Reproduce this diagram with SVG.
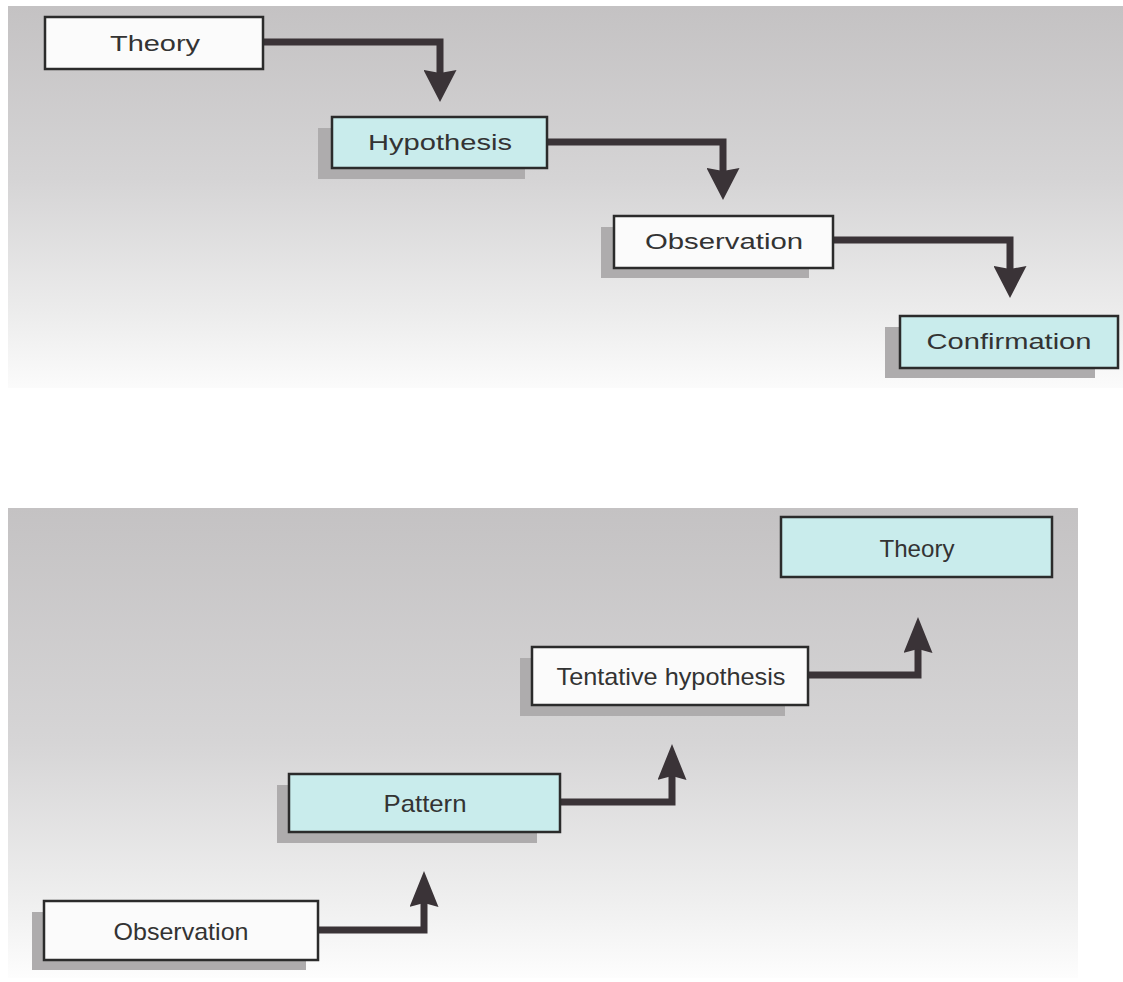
<svg xmlns="http://www.w3.org/2000/svg" width="1123" height="982" viewBox="0 0 1123 982">
<defs>
<linearGradient id="bgTop" x1="0" y1="0" x2="0" y2="1">
<stop offset="0" stop-color="#c4c2c3"/>
<stop offset="0.45" stop-color="#d5d4d5"/>
<stop offset="0.8" stop-color="#ececec"/>
<stop offset="1" stop-color="#fbfbfb"/>
</linearGradient>
<linearGradient id="bgBot" x1="0" y1="0" x2="0" y2="1">
<stop offset="0" stop-color="#c4c2c3"/>
<stop offset="0.5" stop-color="#d6d5d6"/>
<stop offset="0.85" stop-color="#f0f0f0"/>
<stop offset="1" stop-color="#fdfdfd"/>
</linearGradient>
<marker id="headDown" markerUnits="userSpaceOnUse" viewBox="0 0 32 33" markerWidth="32" markerHeight="33" refX="3" refY="16.5" orient="auto">
<path d="M0,0 L32,16.5 L0,33 L3,16.5 z" fill="#3a3337"/>
</marker>
<marker id="headUp" markerUnits="userSpaceOnUse" viewBox="0 0 36 29" markerWidth="36" markerHeight="29" refX="4" refY="14.5" orient="auto">
<path d="M0,0 L36,14.5 L0,29 L4,14.5 z" fill="#3a3337"/>
</marker>
</defs>
<style>
.box{stroke:#2b2b2b;stroke-width:2.5}
.white{fill:#fbfbfb}
.cyan{fill:#c9ecec}
.shadow{fill:#aeacad}
.lbl{font-family:"Liberation Sans",Arial,sans-serif;fill:#333;text-anchor:middle}
.t1{font-size:22px}
.t2{font-size:24px}
.conn{fill:none;stroke:#3a3337;stroke-width:7;stroke-linejoin:miter}
.down{marker-end:url(#headDown)}
.up{marker-end:url(#headUp)}
</style>
<rect x="8" y="6" width="1115" height="382" fill="url(#bgTop)"/>
<rect x="8" y="508" width="1070" height="470" fill="url(#bgBot)"/>
<g id="connectors">
<path class="conn down" d="M263,42 H440 V73"/>
<path class="conn down" d="M547,142 H723 V171"/>
<path class="conn down" d="M833,240 H1010 V269"/>
<path class="conn up" d="M318,930 H424 V903"/>
<path class="conn up" d="M560,802 H672 V776"/>
<path class="conn up" d="M808,675 H918 V649"/>
</g>
<g id="n-theory-top">
<rect class="box white" x="45" y="17" width="218" height="52"/>
<text class="lbl t1" x="155" y="51" textLength="90" lengthAdjust="spacingAndGlyphs">Theory</text>
</g>
<g id="n-hypothesis">
<rect class="shadow" x="318" y="128" width="207" height="51"/>
<rect class="box cyan" x="332" y="117" width="215" height="51"/>
<text class="lbl t1" x="440" y="150" textLength="144" lengthAdjust="spacingAndGlyphs">Hypothesis</text>
</g>
<g id="n-observation-top">
<rect class="shadow" x="601" y="227" width="208" height="51"/>
<rect class="box white" x="614" y="216" width="219" height="52"/>
<text class="lbl t1" x="724" y="249" textLength="158" lengthAdjust="spacingAndGlyphs">Observation</text>
</g>
<g id="n-confirmation">
<rect class="shadow" x="885" y="327" width="210" height="51"/>
<rect class="box cyan" x="900" y="316" width="218" height="52"/>
<text class="lbl t1" x="1009" y="349" textLength="165" lengthAdjust="spacingAndGlyphs">Confirmation</text>
</g>
<g id="n-theory-bottom">
<rect class="box cyan" x="781" y="517" width="271" height="60"/>
<text class="lbl t2" x="917" y="557" textLength="75" lengthAdjust="spacingAndGlyphs">Theory</text>
</g>
<g id="n-tentative">
<rect class="shadow" x="520" y="658" width="265" height="58"/>
<rect class="box white" x="532" y="647" width="276" height="58"/>
<text class="lbl t2" x="671" y="685" textLength="229" lengthAdjust="spacingAndGlyphs">Tentative hypothesis</text>
</g>
<g id="n-pattern">
<rect class="shadow" x="277" y="785" width="260" height="58"/>
<rect class="box cyan" x="289" y="774" width="271" height="58"/>
<text class="lbl t2" x="425" y="812" textLength="83" lengthAdjust="spacingAndGlyphs">Pattern</text>
</g>
<g id="n-observation-bottom">
<rect class="shadow" x="32" y="912" width="274" height="58"/>
<rect class="box white" x="44" y="901" width="274" height="59"/>
<text class="lbl t2" x="181" y="940" textLength="135" lengthAdjust="spacingAndGlyphs">Observation</text>
</g>
</svg>
